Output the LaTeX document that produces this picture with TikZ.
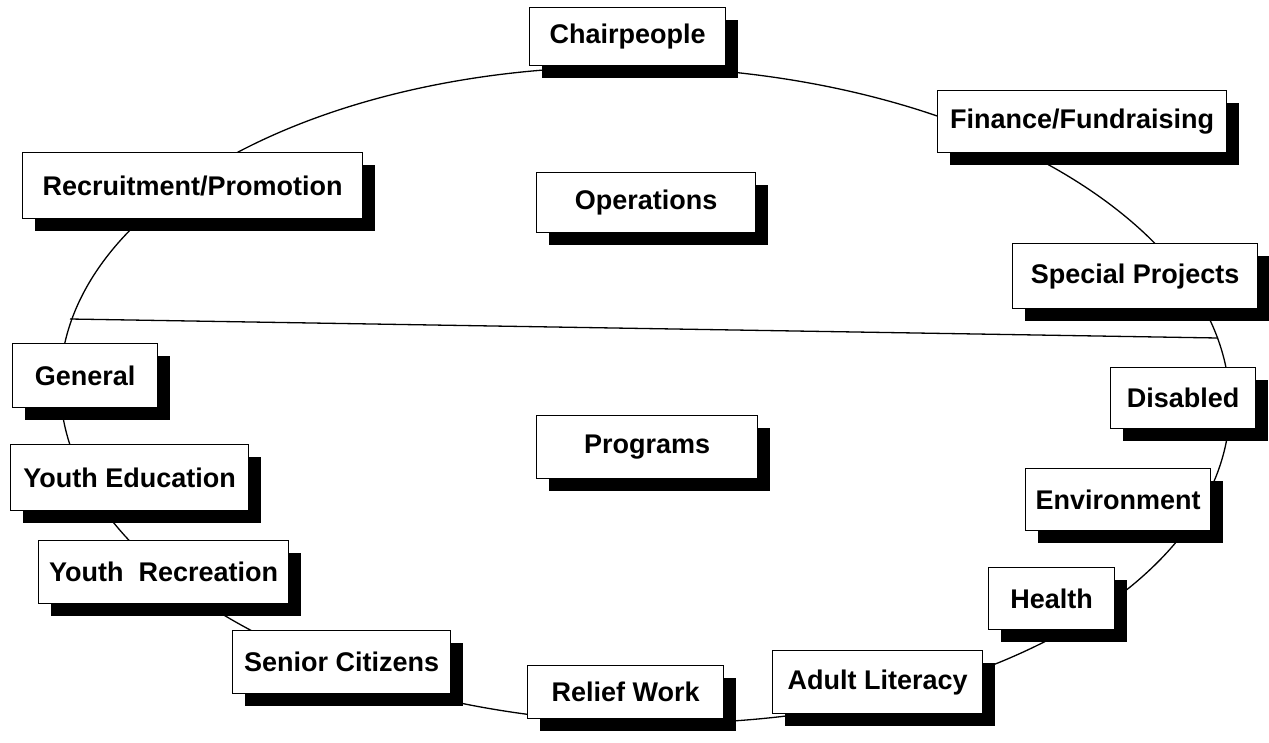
\documentclass[tikz,border=0pt]{standalone}
\usepackage{fontspec}
\setmainfont{Liberation Sans}
\usetikzlibrary{shadows}
\begin{document}
\begin{tikzpicture}[x=1pt,y=-1pt,
  box/.style={draw=black, line width=1.2pt, fill=white, rectangle, inner sep=0pt,
    anchor=north west, align=center,
    font=\fontsize{27}{32}\selectfont\bfseries,
    drop shadow={shadow xshift=12pt, shadow yshift=-12pt, opacity=1, fill=black}},
  ring/.style={draw=black, line width=1.3pt}]
\useasboundingbox (0,0) rectangle (1269,742);
\fill[white] (0,0) rectangle (1269,742);
% outer ring and divider
\draw[ring, rotate around={-1.5:(645,395)}] (645,395) ellipse [x radius=585, y radius=328];
\coordinate (divL) at (70,319);
\coordinate (divR) at (1218,338);
\draw[ring] (divL) -- (divR);
% boxes
\node[box, minimum width=196, minimum height=58] (chair) at (529,7) {Chairpeople};
\node[box, minimum width=289, minimum height=62] (fin) at (937,90) {Finance/Fundraising};
\node[box, minimum width=340, minimum height=66] (rec) at (22,152) {Recruitment/Promotion};
\node[box, minimum width=219, minimum height=60] (ops) at (536,172) {Operations};
\node[box, minimum width=245, minimum height=65] (spec) at (1012,243) {Special Projects};
\node[box, minimum width=145, minimum height=64] (gen) at (12,343) {General};
\node[box, minimum width=145, minimum height=61] (dis) at (1110,367) {Disabled};
\node[box, minimum width=221, minimum height=63] (prog) at (536,415) {Programs};
\node[box, minimum width=238, minimum height=66] (yedu) at (10,444) {Youth Education};
\node[box, minimum width=185, minimum height=62] (env) at (1025,468) {Environment};
\node[box, minimum width=250, minimum height=63] (yrec) at (38,540) {Youth\ \ Recreation};
\node[box, minimum width=126, minimum height=62] (health) at (988,567) {Health};
\node[box, minimum width=218, minimum height=63] (sen) at (232,630) {Senior Citizens};
\node[box, minimum width=210, minimum height=63] (adult) at (772,650) {Adult Literacy};
\node[box, minimum width=196, minimum height=53] (relief) at (527,665) {Relief Work};
\end{tikzpicture}
\end{document}
